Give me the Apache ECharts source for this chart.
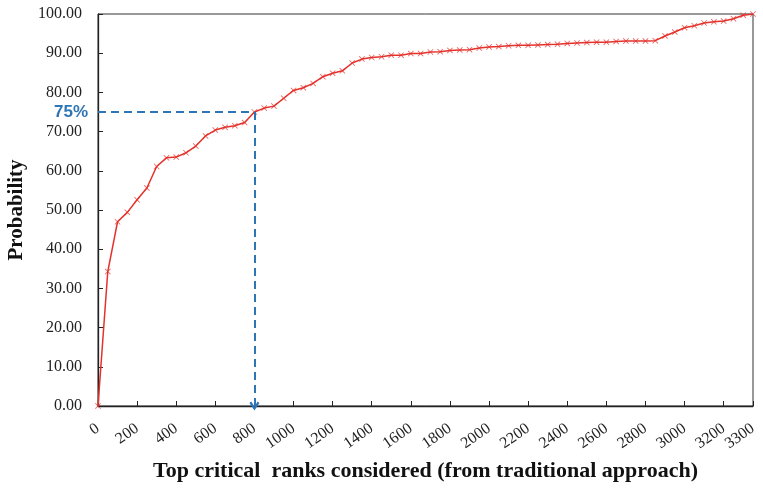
<!DOCTYPE html>
<html>
<head>
<meta charset="utf-8">
<script src="https://cdn.jsdelivr.net/npm/echarts@6/dist/echarts.min.js"></script>
<style>
  html, body { margin: 0; padding: 0; background: #fff; }
  #chart { width: 763px; height: 488px; }
</style>
</head>
<body>
<div id="chart"></div>
<script>
// Top critical ranks (from the traditional approach) taken into account
const ranks = [
  '0', '50', '100', '150', '200', '250', '300', '350', '400', '450',
  '500', '550', '600', '650', '700', '750', '800', '850', '900', '950',
  '1000', '1050', '1100', '1150', '1200', '1250', '1300', '1350', '1400', '1450',
  '1500', '1550', '1600', '1650', '1700', '1750', '1800', '1850', '1900', '1950',
  '2000', '2050', '2100', '2150', '2200', '2250', '2300', '2350', '2400', '2450',
  '2500', '2550', '2600', '2650', '2700', '2750', '2800', '2850', '2900', '2950',
  '3000', '3050', '3100', '3150', '3200', '3240', '3270', '3300'
];

// Cumulative probability (%) for each rank cut-off
const probability = [
  0, 34.3, 47.0, 49.4, 52.6, 55.6, 61.1, 63.3, 63.5, 64.6,
  66.3, 68.9, 70.4, 71.1, 71.5, 72.3, 75.0, 76.0, 76.5, 78.5,
  80.5, 81.2, 82.3, 84.0, 84.9, 85.5, 87.5, 88.5, 88.9, 89.1,
  89.5, 89.5, 89.9, 89.9, 90.3, 90.4, 90.7, 90.8, 90.9, 91.3,
  91.6, 91.7, 91.9, 92.0, 92.0, 92.1, 92.2, 92.3, 92.5, 92.6,
  92.7, 92.8, 92.8, 93.0, 93.1, 93.1, 93.1, 93.2, 94.4, 95.4,
  96.5, 97.0, 97.7, 98.0, 98.2, 98.8, 99.7, 100.0
];

// Rank labels shown on the x axis
const shownRanks = ['0', '200', '400', '600', '800', '1000', '1200', '1400', '1600',
  '1800', '2000', '2200', '2400', '2600', '2800', '3000', '3200', '3300'];

// Highlighted threshold: 75% probability reached at rank 800
const thresholdRank = '800';
const thresholdValue = 75;

const serif = '"Liberation Serif", "Times New Roman", serif';
const red = '#e4312b';
const blue = '#2e75b6';

const showRank = (idx, name) => shownRanks.indexOf(name) !== -1;

// open chevron arrow head (points along the line direction)
const chevron = 'path://M0,7L5,0L10,7L8.2,8.4L5,3.8L1.8,8.4Z';

const chart = echarts.init(document.getElementById('chart'));
chart.setOption({
  animation: false,
  grid: {
    left: 98, right: 10, top: 14, bottom: 82,
    show: true, borderColor: '#333', borderWidth: 1,
    containLabel: false,
    outerBoundsMode: 'none'
  },
  xAxis: {
    type: 'category',
    data: ranks,
    boundaryGap: false,
    name: 'Top critical  ranks considered (from traditional approach)',
    nameLocation: 'middle',
    nameGap: 54,
    nameTextStyle: { fontFamily: serif, fontWeight: 'bold', fontSize: 22, color: '#111' },
    axisLine: { lineStyle: { color: '#222', width: 1.3 } },
    axisTick: { inside: true, length: 5, interval: showRank, lineStyle: { color: '#222' } },
    axisLabel: {
      interval: showRank, rotate: 35, margin: 21,
      fontFamily: serif, fontSize: 16, color: '#222'
    },
    splitLine: { show: false }
  },
  yAxis: {
    type: 'value',
    min: 0, max: 100, interval: 10,
    name: 'Probability',
    nameLocation: 'middle',
    nameRotate: 90,
    nameGap: 69,
    nameTextStyle: { fontFamily: serif, fontWeight: 'bold', fontSize: 21, color: '#111' },
    axisLine: { show: true, lineStyle: { color: '#222', width: 1.3 } },
    axisTick: { show: true, inside: true, length: 5, lineStyle: { color: '#222' } },
    axisLabel: {
      margin: 16, fontFamily: serif, fontSize: 16, color: '#222',
      formatter: v => v.toFixed(2)
    },
    splitLine: { show: false }
  },
  series: [{
    type: 'line',
    data: probability,
    showAllSymbol: true,
    symbol: 'path://M1,0L5,4L9,0L10,1L6,5L10,9L9,10L5,6L1,10L0,9L4,5L0,1Z',
    symbolSize: 6,
    lineStyle: { color: red, width: 1.5 },
    itemStyle: { color: red, opacity: 0.75 },
    markLine: {
      silent: true,
      animation: false,
      symbol: ['none', 'none'],
      lineStyle: { color: blue, type: [8, 5], width: 2 },
      label: { show: false },
      data: [
        [
          {
            coord: [ranks[0], thresholdValue],
            label: {
              show: true, position: 'start', distance: 10,
              formatter: thresholdValue + '%',
              fontFamily: '"Liberation Sans", Arial, sans-serif',
              fontWeight: 'bold', fontSize: 17, color: blue
            }
          },
          { coord: [thresholdRank, thresholdValue] }
        ],
        [
          { coord: [thresholdRank, thresholdValue], symbol: 'none' },
          { coord: [thresholdRank, 0], symbol: chevron, symbolSize: [10, 9] }
        ]
      ]
    }
  }]
});
</script>
</body>
</html>
